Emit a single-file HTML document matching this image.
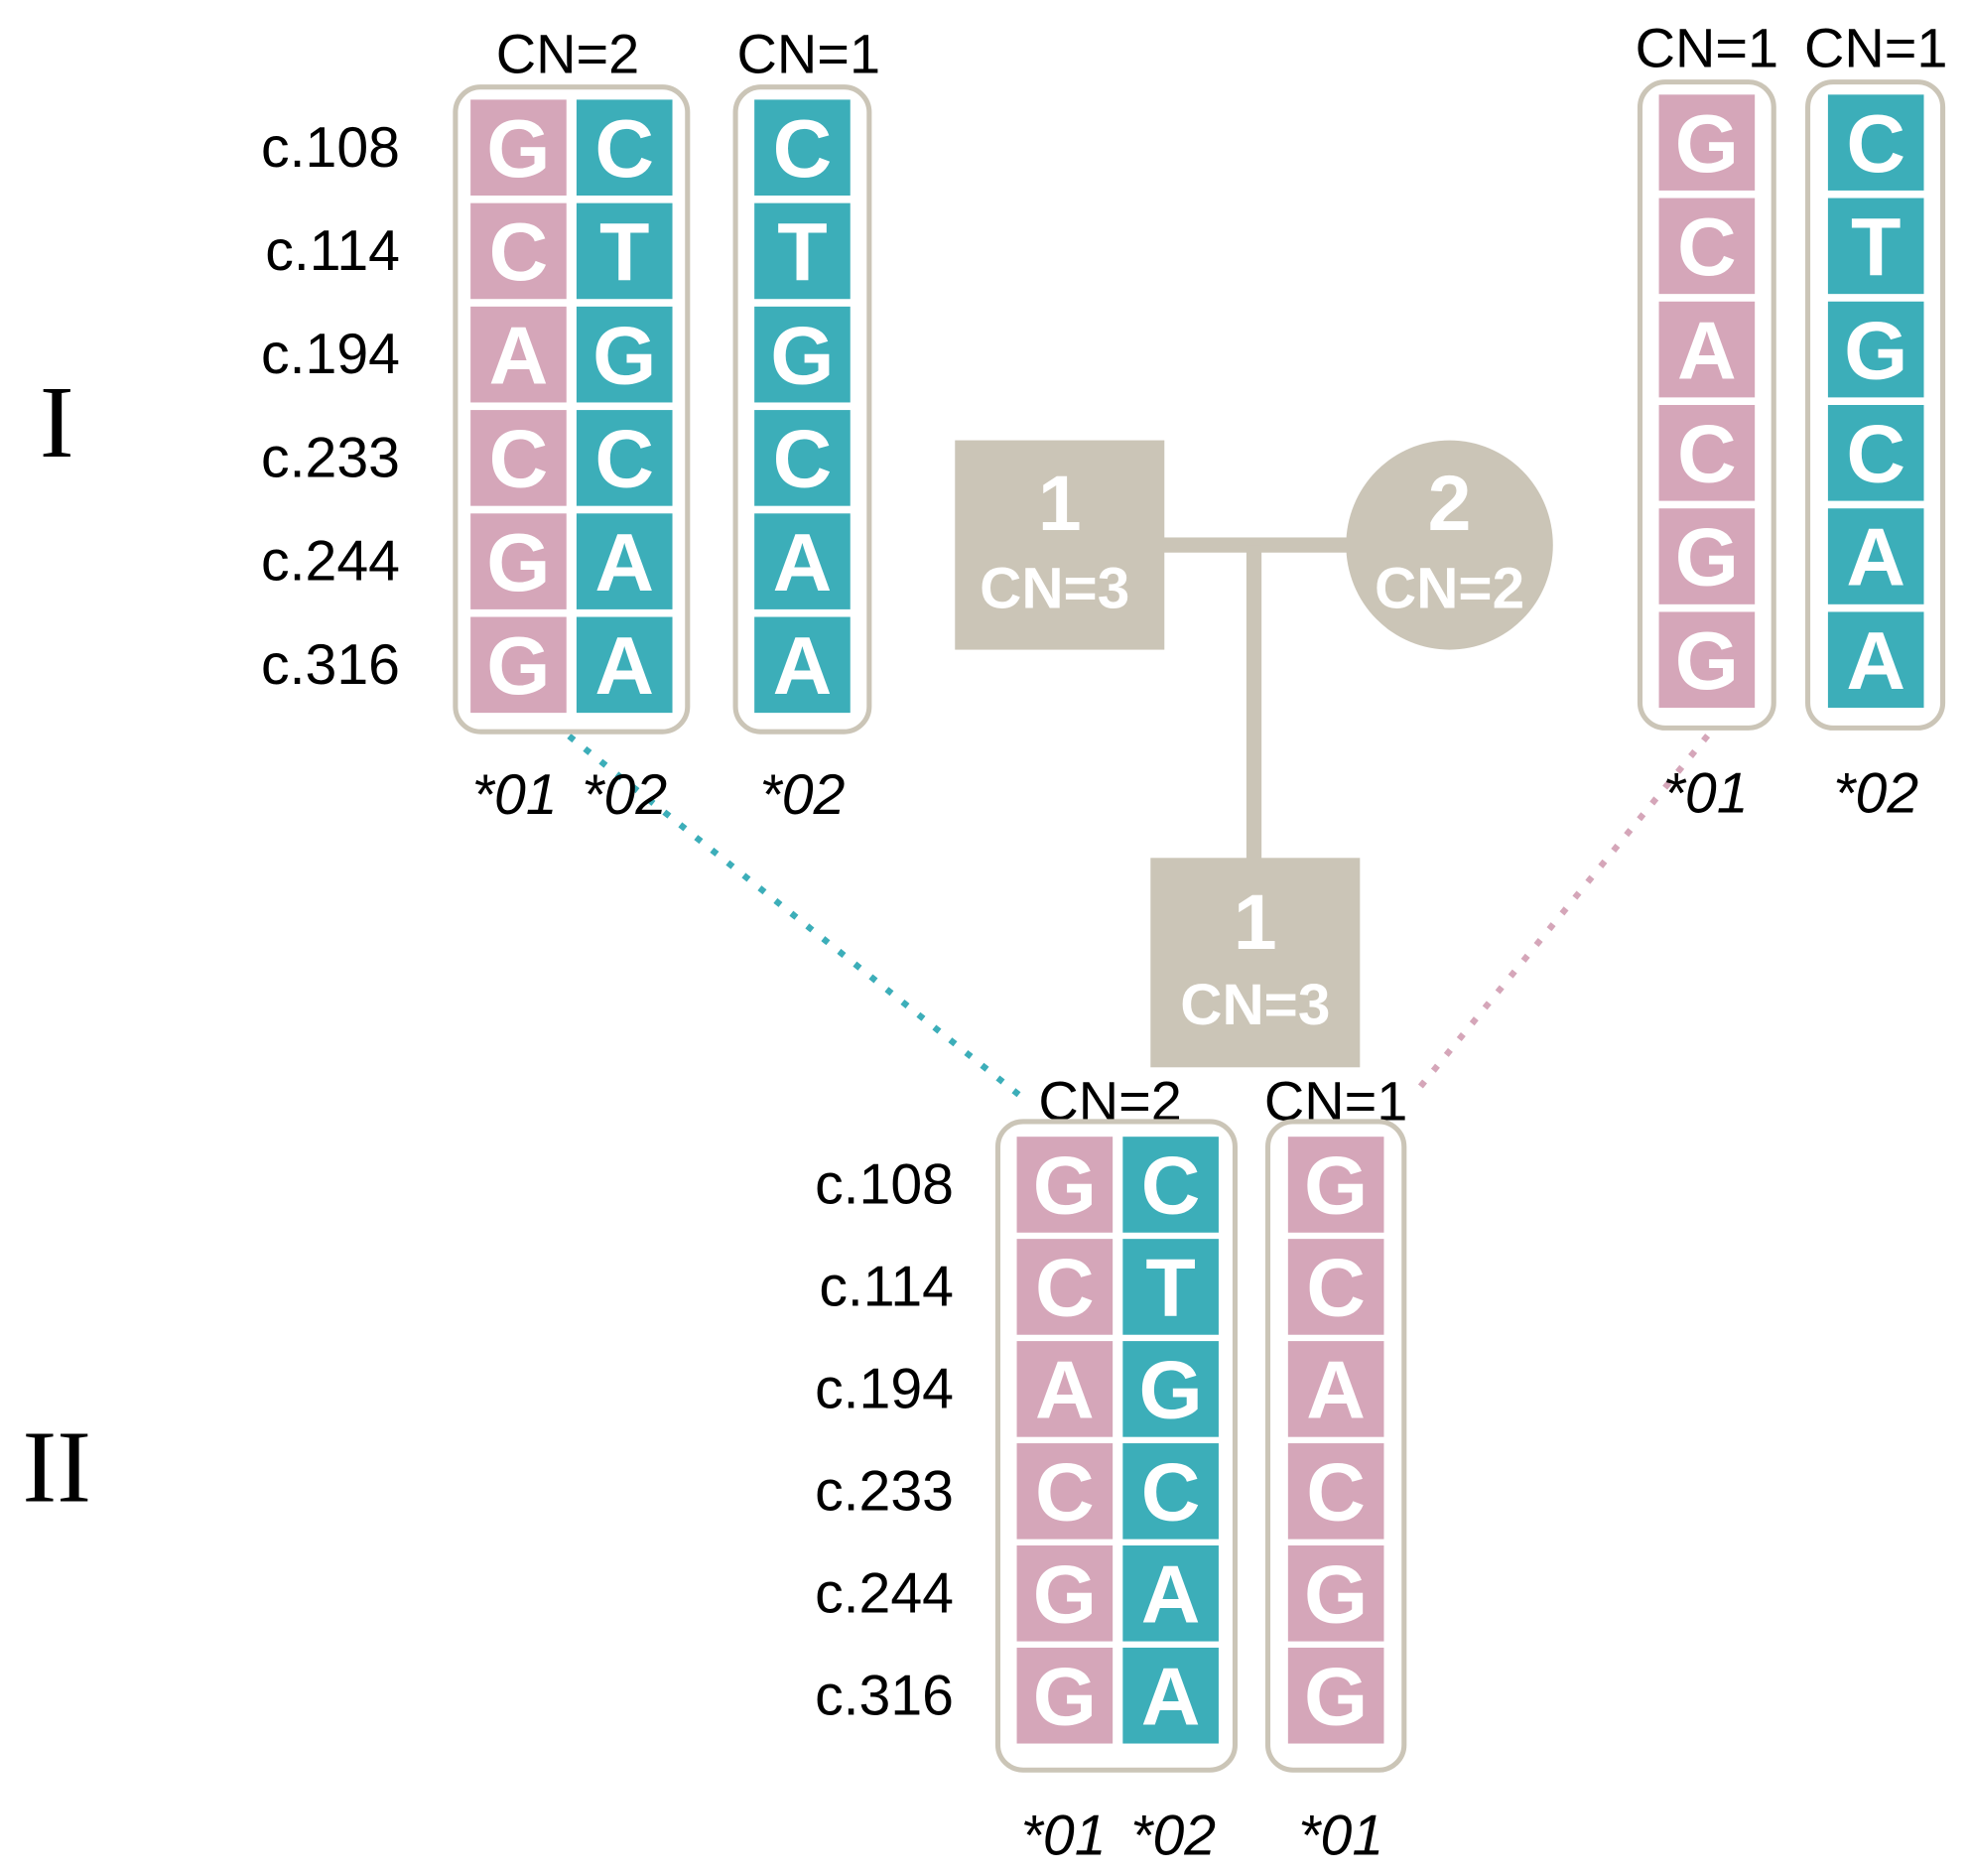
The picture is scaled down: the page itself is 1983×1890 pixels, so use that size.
<!DOCTYPE html>
<html><head><meta charset="utf-8"><style>
html,body{margin:0;padding:0;background:#fff;}
svg{display:block;}
.lab{font-family:"Liberation Sans",sans-serif;font-size:45px;fill:#000;text-anchor:end;}
.cn{font-family:"Liberation Sans",sans-serif;font-size:44px;fill:#000;text-anchor:middle;}
.al{font-family:"Liberation Sans",sans-serif;font-size:45px;font-style:italic;fill:#000;text-anchor:middle;}
.nt{font-family:"Liberation Sans",sans-serif;font-size:65px;font-weight:bold;fill:#fff;text-anchor:middle;}
.rom{font-family:"Liberation Serif",serif;font-size:82px;fill:#000;text-anchor:middle;}
.pn{font-family:"Liberation Sans",sans-serif;font-size:62px;font-weight:bold;fill:#fff;text-anchor:middle;}
.pc{font-family:"Liberation Sans Narrow","Liberation Sans",sans-serif;font-size:46px;font-weight:bold;fill:#fff;text-anchor:middle;}
</style></head><body>
<svg width="1983" height="1890" viewBox="0 0 1560 1487" preserveAspectRatio="none" xmlns="http://www.w3.org/2000/svg">
<line x1="453" y1="585" x2="808" y2="868" stroke="#3caeb9" stroke-width="5" stroke-dasharray="0.1 16" stroke-linecap="square"/>
<line x1="1352" y1="585" x2="1127" y2="860" stroke="#d5a6b9" stroke-width="5" stroke-dasharray="0.1 16" stroke-linecap="square"/>

<text class="rom" x="45" y="362">I</text>
<text class="rom" x="45" y="1190">II</text>

<rect x="920" y="426" width="150" height="12" fill="#cbc5b7"/>
<rect x="988" y="432" width="12" height="250" fill="#cbc5b7"/>
<rect x="757" y="349" width="166" height="166" fill="#cbc5b7"/>
<text class="pn" x="840" y="420">1</text>
<text class="pc" x="836" y="482">CN=3</text>
<ellipse cx="1149" cy="432" rx="82" ry="83" fill="#cbc5b7"/>
<text class="pn" x="1149" y="420">2</text>
<text class="pc" x="1149" y="482">CN=2</text>
<rect x="912" y="680" width="166" height="166" fill="#cbc5b7"/>
<text class="pn" x="995" y="752">1</text>
<text class="pc" x="995" y="812">CN=3</text>

<text class="cn" x="450" y="58">CN=2</text>
<text class="cn" x="641" y="58">CN=1</text>
<rect x="361" y="69" width="184" height="511" rx="20" fill="none" stroke="#cbc5b7" stroke-width="4"/>
<rect x="583" y="69" width="106" height="511" rx="20" fill="none" stroke="#cbc5b7" stroke-width="4"/>
<g>
<text class="lab" x="317" y="132">c.108</text>
<text class="lab" x="317" y="214">c.114</text>
<text class="lab" x="317" y="296">c.194</text>
<text class="lab" x="317" y="378">c.233</text>
<text class="lab" x="317" y="460">c.244</text>
<text class="lab" x="317" y="542">c.316</text>
</g>
<g>
<rect x="373" y="79" width="76" height="76" fill="#d5a6b9"/><text class="nt" x="411" y="140">G</text>
<rect x="373" y="161" width="76" height="76" fill="#d5a6b9"/><text class="nt" x="411" y="222">C</text>
<rect x="373" y="243" width="76" height="76" fill="#d5a6b9"/><text class="nt" x="411" y="304">A</text>
<rect x="373" y="325" width="76" height="76" fill="#d5a6b9"/><text class="nt" x="411" y="386">C</text>
<rect x="373" y="407" width="76" height="76" fill="#d5a6b9"/><text class="nt" x="411" y="468">G</text>
<rect x="373" y="489" width="76" height="76" fill="#d5a6b9"/><text class="nt" x="411" y="550">G</text>
<rect x="457" y="79" width="76" height="76" fill="#3caeb9"/><text class="nt" x="495" y="140">C</text>
<rect x="457" y="161" width="76" height="76" fill="#3caeb9"/><text class="nt" x="495" y="222">T</text>
<rect x="457" y="243" width="76" height="76" fill="#3caeb9"/><text class="nt" x="495" y="304">G</text>
<rect x="457" y="325" width="76" height="76" fill="#3caeb9"/><text class="nt" x="495" y="386">C</text>
<rect x="457" y="407" width="76" height="76" fill="#3caeb9"/><text class="nt" x="495" y="468">A</text>
<rect x="457" y="489" width="76" height="76" fill="#3caeb9"/><text class="nt" x="495" y="550">A</text>
<rect x="598" y="79" width="76" height="76" fill="#3caeb9"/><text class="nt" x="636" y="140">C</text>
<rect x="598" y="161" width="76" height="76" fill="#3caeb9"/><text class="nt" x="636" y="222">T</text>
<rect x="598" y="243" width="76" height="76" fill="#3caeb9"/><text class="nt" x="636" y="304">G</text>
<rect x="598" y="325" width="76" height="76" fill="#3caeb9"/><text class="nt" x="636" y="386">C</text>
<rect x="598" y="407" width="76" height="76" fill="#3caeb9"/><text class="nt" x="636" y="468">A</text>
<rect x="598" y="489" width="76" height="76" fill="#3caeb9"/><text class="nt" x="636" y="550">A</text>
</g>
<text class="al" x="408" y="645">*01</text>
<text class="al" x="495" y="645">*02</text>
<text class="al" x="636" y="645">*02</text>

<text class="cn" x="1353" y="53">CN=1</text>
<text class="cn" x="1487" y="53">CN=1</text>
<rect x="1300" y="65" width="106" height="512" rx="20" fill="none" stroke="#cbc5b7" stroke-width="4"/>
<rect x="1433" y="65" width="107" height="512" rx="20" fill="none" stroke="#cbc5b7" stroke-width="4"/>
<g>
<rect x="1315" y="75" width="76" height="76" fill="#d5a6b9"/><text class="nt" x="1353" y="136">G</text>
<rect x="1315" y="157" width="76" height="76" fill="#d5a6b9"/><text class="nt" x="1353" y="218">C</text>
<rect x="1315" y="239" width="76" height="76" fill="#d5a6b9"/><text class="nt" x="1353" y="300">A</text>
<rect x="1315" y="321" width="76" height="76" fill="#d5a6b9"/><text class="nt" x="1353" y="382">C</text>
<rect x="1315" y="403" width="76" height="76" fill="#d5a6b9"/><text class="nt" x="1353" y="464">G</text>
<rect x="1315" y="485" width="76" height="76" fill="#d5a6b9"/><text class="nt" x="1353" y="546">G</text>
<rect x="1449" y="75" width="76" height="76" fill="#3caeb9"/><text class="nt" x="1487" y="136">C</text>
<rect x="1449" y="157" width="76" height="76" fill="#3caeb9"/><text class="nt" x="1487" y="218">T</text>
<rect x="1449" y="239" width="76" height="76" fill="#3caeb9"/><text class="nt" x="1487" y="300">G</text>
<rect x="1449" y="321" width="76" height="76" fill="#3caeb9"/><text class="nt" x="1487" y="382">C</text>
<rect x="1449" y="403" width="76" height="76" fill="#3caeb9"/><text class="nt" x="1487" y="464">A</text>
<rect x="1449" y="485" width="76" height="76" fill="#3caeb9"/><text class="nt" x="1487" y="546">A</text>
</g>
<text class="al" x="1352" y="644">*01</text>
<text class="al" x="1487" y="644">*02</text>

<text class="cn" x="880" y="888">CN=2</text>
<text class="cn" x="1059" y="888">CN=1</text>
<rect x="791" y="889" width="188" height="514" rx="20" fill="none" stroke="#cbc5b7" stroke-width="4"/>
<rect x="1005" y="889" width="108" height="514" rx="20" fill="none" stroke="#cbc5b7" stroke-width="4"/>
<g>
<text class="lab" x="756" y="954">c.108</text>
<text class="lab" x="756" y="1035">c.114</text>
<text class="lab" x="756" y="1116">c.194</text>
<text class="lab" x="756" y="1197">c.233</text>
<text class="lab" x="756" y="1278">c.244</text>
<text class="lab" x="756" y="1359">c.316</text>
</g>
<g>
<rect x="806" y="901" width="76" height="76" fill="#d5a6b9"/><text class="nt" x="844" y="962">G</text>
<rect x="806" y="982" width="76" height="76" fill="#d5a6b9"/><text class="nt" x="844" y="1043">C</text>
<rect x="806" y="1063" width="76" height="76" fill="#d5a6b9"/><text class="nt" x="844" y="1124">A</text>
<rect x="806" y="1144" width="76" height="76" fill="#d5a6b9"/><text class="nt" x="844" y="1205">C</text>
<rect x="806" y="1225" width="76" height="76" fill="#d5a6b9"/><text class="nt" x="844" y="1286">G</text>
<rect x="806" y="1306" width="76" height="76" fill="#d5a6b9"/><text class="nt" x="844" y="1367">G</text>
<rect x="890" y="901" width="76" height="76" fill="#3caeb9"/><text class="nt" x="928" y="962">C</text>
<rect x="890" y="982" width="76" height="76" fill="#3caeb9"/><text class="nt" x="928" y="1043">T</text>
<rect x="890" y="1063" width="76" height="76" fill="#3caeb9"/><text class="nt" x="928" y="1124">G</text>
<rect x="890" y="1144" width="76" height="76" fill="#3caeb9"/><text class="nt" x="928" y="1205">C</text>
<rect x="890" y="1225" width="76" height="76" fill="#3caeb9"/><text class="nt" x="928" y="1286">A</text>
<rect x="890" y="1306" width="76" height="76" fill="#3caeb9"/><text class="nt" x="928" y="1367">A</text>
<rect x="1021" y="901" width="76" height="76" fill="#d5a6b9"/><text class="nt" x="1059" y="962">G</text>
<rect x="1021" y="982" width="76" height="76" fill="#d5a6b9"/><text class="nt" x="1059" y="1043">C</text>
<rect x="1021" y="1063" width="76" height="76" fill="#d5a6b9"/><text class="nt" x="1059" y="1124">A</text>
<rect x="1021" y="1144" width="76" height="76" fill="#d5a6b9"/><text class="nt" x="1059" y="1205">C</text>
<rect x="1021" y="1225" width="76" height="76" fill="#d5a6b9"/><text class="nt" x="1059" y="1286">G</text>
<rect x="1021" y="1306" width="76" height="76" fill="#d5a6b9"/><text class="nt" x="1059" y="1367">G</text>
</g>
<text class="al" x="843" y="1470">*01</text>
<text class="al" x="930" y="1470">*02</text>
<text class="al" x="1063" y="1470">*01</text>
</svg>
</body></html>
